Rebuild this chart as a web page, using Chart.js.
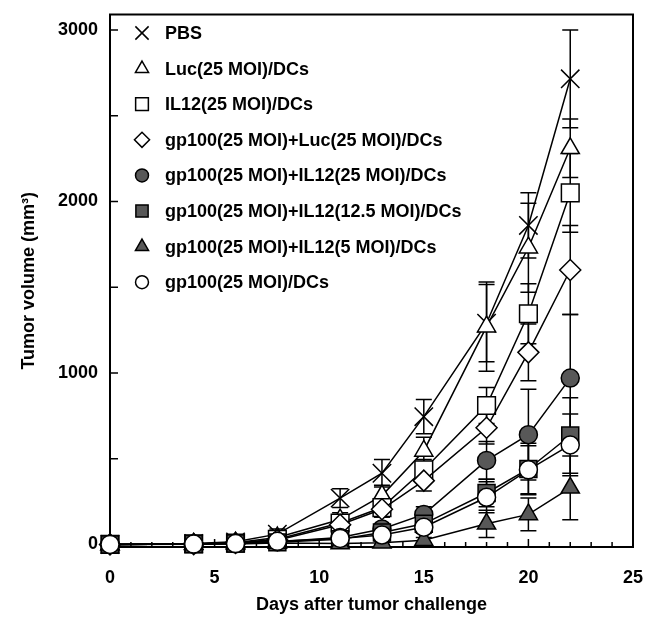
<!DOCTYPE html>
<html>
<head>
<meta charset="utf-8">
<script src="https://cdn.jsdelivr.net/npm/chart.js@4/dist/chart.umd.min.js"></script>
<style>
  html, body { margin: 0; padding: 0; background: #fff; }
  .canvas-container { width: 660px; height: 617px; }
</style>
</head>
<body>
<div class="canvas-container"><canvas id="myChart" width="660" height="617"></canvas></div>
<script>
//days after challenge
const days = [0, 4, 6, 8, 11, 13, 15, 18, 20, 22];

//group names
const groupNames = [
  "PBS",
  "Luc(25 MOI)/DCs",
  "IL12(25 MOI)/DCs",
  "gp100(25 MOI)+Luc(25 MOI)/DCs",
  "gp100(25 MOI)+IL12(25 MOI)/DCs",
  "gp100(25 MOI)+IL12(12.5 MOI)/DCs",
  "gp100(25 MOI)+IL12(5 MOI)/DCs",
  "gp100(25 MOI)/DCs",
];

//mean tumor volume (mm3)
const pbs = [0, 5, 15, 60, 270, 415, 745, 1290, 1860, 2715];
const luc = [0, 3, 10, 40, 145, 285, 545, 1270, 1730, 2310];
const il12 = [0, 3, 8, 30, 125, 215, 435, 810, 1345, 2050];
const gpLuc = [0, 2, 8, 25, 115, 205, 372, 680, 1120, 1600];
const gpIl12High = [0, 2, 5, 15, 40, 90, 175, 490, 640, 970];
const gpIl12Mid = [0, 2, 5, 12, 30, 70, 120, 300, 440, 635];
const gpIl12Low = [0, 1, 3, 8, 5, 10, 25, 120, 175, 330];
const gpOnly = [0, 2, 5, 18, 35, 55, 100, 275, 435, 580];

//error bars (+/-)
const pbsErr = [0, 5, 10, 30, 55, 80, 100, 225, 190, 285];
const lucErr = [0, 3, 8, 20, 40, 60, 80, 260, 260, 170];
const il12Err = [0, 3, 8, 15, 35, 55, 60, 105, 175, 230];
const gpLucErr = [0, 2, 6, 12, 30, 45, 60, 95, 165, 260];
const gpIl12HighErr = [0, 2, 5, 10, 15, 25, 45, 110, 265, 370];
const gpIl12MidErr = [0, 2, 4, 8, 15, 20, 40, 80, 150, 220];
const gpIl12LowErr = [0, 1, 3, 5, 10, 10, 15, 80, 95, 186];
const gpOnlyErr = [0, 2, 4, 8, 12, 20, 35, 90, 140, 180];

//tick labels
const xTicks = [0, 5, 10, 15, 20, 25];
const yTicks = [0, 1000, 2000, 3000];

const gray = "#585858";
const font = "'Liberation Sans', Arial, sans-serif";

//marker style for each group
const markers = [
  { style: "crossRot", radius: 13, fill: "#fff" },
  { style: "triangle", radius: 10.5, fill: "#fff" },
  { style: "rect", radius: 12.5, fill: "#fff" },
  { style: "rectRot", radius: 10.5, fill: "#fff" },
  { style: "circle", radius: 9, fill: gray },
  { style: "rect", radius: 12, fill: gray },
  { style: "triangle", radius: 10.5, fill: gray },
  { style: "circle", radius: 9, fill: "#fff" },
];

const means = [pbs, luc, il12, gpLuc, gpIl12High, gpIl12Mid, gpIl12Low, gpOnly];
const errs = [pbsErr, lucErr, il12Err, gpLucErr, gpIl12HighErr, gpIl12MidErr, gpIl12LowErr, gpOnlyErr];

const datasets = groupNames.map((name, i) => ({
  label: name,
  data: days.map((d, j) => ({ x: d, y: means[i][j] })),
  errors: errs[i],
  order: groupNames.length - i, //last group drawn on top
  clip: false,
  borderColor: "#000",
  borderWidth: 1.5,
  pointStyle: markers[i].style,
  pointRadius: markers[i].radius,
  pointBackgroundColor: markers[i].fill,
  pointBorderColor: "#000",
  pointBorderWidth: 1.5,
  tension: 0,
}));

//error bars drawn under the markers
const errorBars = {
  id: "errorBars",
  beforeDatasetsDraw(chart) {
    const { ctx, scales } = chart;
    ctx.save();
    ctx.strokeStyle = "#000";
    ctx.lineWidth = 1.5;
    chart.data.datasets.forEach((ds) => {
      ds.data.forEach((p, j) => {
        const e = ds.errors[j];
        if (!e) return;
        const x = scales.x.getPixelForValue(p.x);
        const top = scales.y.getPixelForValue(p.y + e);
        const bot = scales.y.getPixelForValue(p.y - e);
        ctx.beginPath();
        ctx.moveTo(x, top);
        ctx.lineTo(x, bot);
        ctx.moveTo(x - 8, top);
        ctx.lineTo(x + 8, top);
        ctx.moveTo(x - 8, bot);
        ctx.lineTo(x + 8, bot);
        ctx.stroke();
      });
    });
    ctx.restore();
  },
};

//box and inward ticks
const frame = {
  id: "frame",
  beforeDatasetsDraw(chart) {
    const { ctx, chartArea: a, scales } = chart;
    ctx.save();
    ctx.strokeStyle = "#000";
    ctx.lineWidth = 2;
    ctx.strokeRect(a.left, a.top, a.right - a.left, a.bottom - a.top);
    ctx.lineWidth = 1.5;
    ctx.beginPath();
    for (let d = 1; d < 25; d++) {
      const x = scales.x.getPixelForValue(d);
      const len = d % 5 === 0 ? 8 : 5;
      ctx.moveTo(x, a.bottom);
      ctx.lineTo(x, a.bottom - len);
    }
    for (let v = 500; v <= 3000; v += 500) {
      const y = scales.y.getPixelForValue(v);
      ctx.moveTo(a.left, y);
      ctx.lineTo(a.left + 8, y);
    }
    ctx.stroke();
    ctx.restore();
  },
};

//legend inside the plot, top left
const insideLegend = {
  id: "insideLegend",
  afterDraw(chart) {
    const { ctx } = chart;
    ctx.save();
    ctx.font = "bold 18px " + font;
    ctx.textBaseline = "middle";
    chart.data.datasets.forEach((ds, i) => {
      const y = 33 + i * 35.6;
      ctx.fillStyle = markers[i].fill;
      ctx.strokeStyle = "#000";
      ctx.lineWidth = 1.5;
      Chart.helpers.drawPoint(ctx, {
        pointStyle: markers[i].style,
        radius: markers[i].radius * 0.72,
        rotation: 0,
        borderWidth: 1.5,
      }, 142, y);
      ctx.fillStyle = "#000";
      ctx.fillText(ds.label, 165, y + 1);
    });
    ctx.restore();
  },
};

const config = {
  type: "line",
  data: { datasets: datasets },
  options: {
    responsive: false,
    animation: false,
    layout: { padding: { top: 12, right: 27, left: 0, bottom: 0 } },
    plugins: { legend: { display: false }, tooltip: { enabled: false } },
    scales: {
      x: {
        type: "linear",
        min: 0,
        max: 25,
        afterFit: (s) => { s.height = 70; s.paddingLeft = 0; s.paddingRight = 0; },
        afterBuildTicks: (s) => { s.ticks = xTicks.map((v) => ({ value: v })); },
        grid: { display: false, drawTicks: false },
        border: { display: false },
        ticks: { color: "#000", padding: 20, font: { family: font, size: 18, weight: "bold" } },
        title: {
          display: true,
          text: "Days after tumor challenge",
          color: "#000",
          padding: { bottom: 1 },
          font: { family: font, size: 18, weight: "bold" },
        },
      },
      y: {
        min: -15,
        max: 3090,
        afterFit: (s) => { s.width = 110; s.paddingTop = 0; s.paddingBottom = 0; },
        afterBuildTicks: (s) => { s.ticks = yTicks.map((v) => ({ value: v })); },
        grid: { display: false, drawTicks: false },
        border: { display: false },
        ticks: {
          color: "#000",
          padding: 12,
          font: { family: font, size: 18, weight: "bold" },
          callback: (v) => String(v),
        },
        title: {
          display: true,
          text: "Tumor volume (mm³)",
          color: "#000",
          padding: { top: 18 },
          font: { family: font, size: 18, weight: "bold" },
        },
      },
    },
  },
  plugins: [errorBars, frame, insideLegend],
};

const myChart = new Chart(document.getElementById("myChart"), config);
</script>
</body>
</html>
